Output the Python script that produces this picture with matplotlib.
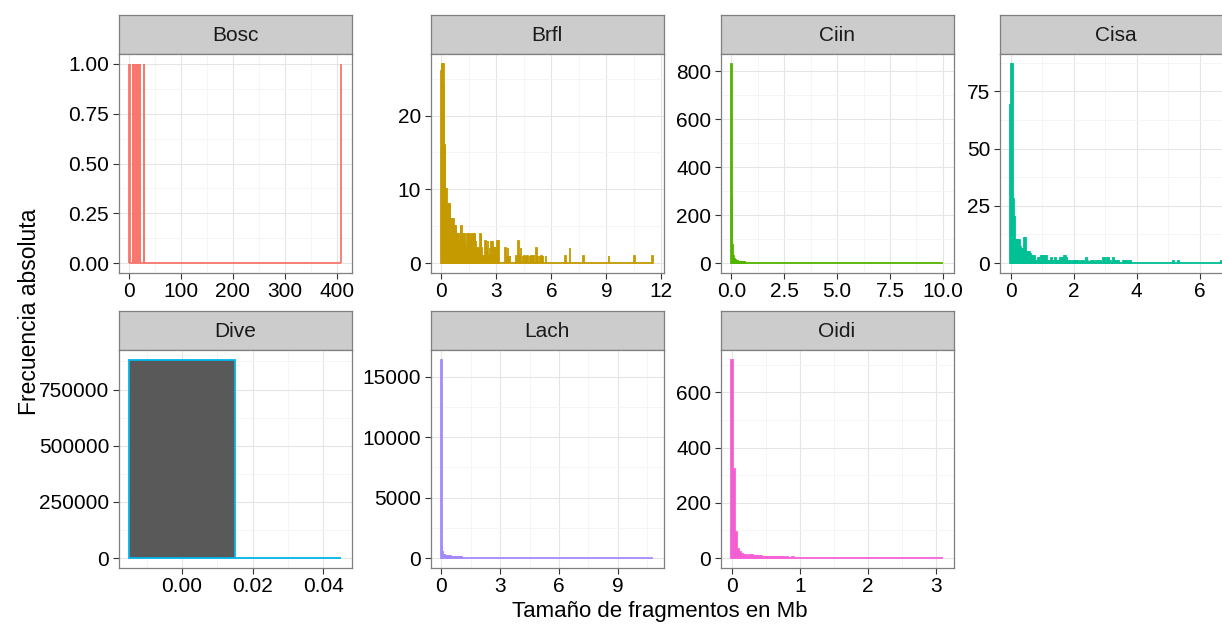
import numpy as np
import matplotlib
matplotlib.use("Agg")
import matplotlib.pyplot as plt

plt.rcParams["font.family"] = ["Liberation Sans", "DejaVu Sans"]

# ==============================
# Data (histogram, binwidth 0.03 Mb)
# ==============================

BINW = 0.03

species = ["Bosc", "Brfl", "Ciin", "Cisa", "Dive", "Lach", "Oidi"]
colors = ["#F8766D", "#C49A00", "#53B400", "#00C094", "#00B6EB", "#A58AFF", "#FB61D7"]

# first / last bin centre, consecutive counts from the first bin, then sparse bins
bosc_first, bosc_last = 0.66, 407.67
bosc_head = [1]
bosc_tail_x = [2.1, 7.5, 9.0, 10.5, 12.0, 13.5, 15.0, 16.5, 18.0, 19.5, 21.0, 22.5, 28.5, 29.7, 407.67]
bosc_tail_n = [1, 1, 1, 1, 1, 1, 1, 1, 1, 1, 1, 1, 1, 1, 1]

brfl_first, brfl_last = 0.0, 11.52
brfl_head = [26, 27, 27, 26, 27, 24, 16, 16, 10, 10, 7, 8, 6, 6, 5, 8, 8, 6, 5, 6,
             6, 5, 6, 5, 5, 4, 5, 5, 4, 4, 3, 4, 3, 3, 2, 3, 5, 5, 3, 4,
             4, 2, 4, 3, 2, 2, 1, 2, 4, 4, 2, 4, 4, 3, 4, 2, 4, 4, 1, 3,
             4, 4, 2, 3, 2, 2, 1, 2, 2, 0, 2, 4, 4, 2, 1, 1, 0, 1, 0, 1,
             3, 3, 0, 2, 1, 3, 0, 1, 2, 0, 3, 1, 3, 0, 3, 1, 0, 2, 2, 1,
             2, 0, 3, 2, 3]
brfl_tail_x = [3.51, 3.57, 3.63, 3.69, 3.75, 4.11, 4.20, 4.26, 4.35, 4.44, 4.53, 4.62,
               4.71, 4.83, 4.92, 5.01, 5.19, 5.28, 5.37, 5.46, 5.55, 5.70, 6.78, 7.02,
               7.74, 9.15, 10.53, 11.52]
brfl_tail_n = [2, 1, 2, 1, 1, 1, 3, 1, 2, 1, 1, 1,
               1, 1, 1, 1, 2, 1, 1, 1, 1, 1, 1, 2,
               1, 1, 1, 1]

ciin_first, ciin_last = 0.0, 9.99
ciin_head = [830, 270, 75, 30, 22, 16, 12, 10, 9, 8, 7, 6, 6, 5, 5, 4, 4, 4, 3, 3,
             3, 3, 2, 2, 2, 2, 2, 2, 1, 2, 1, 1, 2, 1, 1]
ciin_tail_x = [1.11, 1.26, 1.41, 1.62, 1.80, 2.19, 2.52, 2.91, 3.36, 3.84, 4.62, 4.80,
               4.95, 5.31, 5.88, 6.09, 6.51, 6.60, 7.02, 7.50, 7.89, 8.43, 9.99]
ciin_tail_n = [1] * 23

cisa_first, cisa_last = 0.0, 6.69
cisa_head = [69, 87, 87, 28, 20, 10, 10, 10, 8, 10, 6, 7, 5, 6, 6, 11, 11, 5, 5, 5,
             5, 4, 3, 3, 2, 3, 1, 1, 0, 1, 2, 2, 1, 3, 3, 3, 2, 3, 3, 1,
             1, 1, 1, 2, 1, 1, 1, 1, 2, 1, 1, 1, 1, 2, 1, 2, 2, 3, 3, 2,
             1, 0, 1, 1, 0, 0, 1, 1, 1, 1, 1, 0, 1]
cisa_tail_x = [2.25, 2.31, 2.40, 2.43, 2.52, 2.58, 2.64, 2.73, 2.79, 2.85, 2.94, 2.97,
               3.09, 3.12, 3.18, 3.27, 3.30, 3.36, 3.42, 3.57, 3.60, 3.66, 3.72, 3.78,
               3.81, 5.16, 5.34, 6.69]
cisa_tail_n = [1, 1, 2, 1, 1, 1, 1, 1, 1, 1, 2, 2,
               2, 2, 1, 2, 1, 1, 1, 1, 1, 1, 1, 1,
               1, 1, 1, 1]

dive_first, dive_last = 0.0, 0.03
dive_head = [882000, 0]
dive_tail_x = []
dive_tail_n = []

lach_first, lach_last = 0.0, 10.77
lach_head = [16400, 1000, 480, 330, 270, 240, 222, 205, 196, 184, 176, 163, 158, 149, 144, 134,
             131, 122, 119, 111, 108, 100, 98, 91, 89, 83, 81, 75, 73, 68, 66, 61,
             60, 55, 54, 49, 48, 43, 42, 38, 37, 34, 33, 30, 29, 26, 25, 24, 21, 21,
             19, 17, 17, 15, 15, 13, 13, 11, 11, 10, 9, 9, 8, 8, 7, 7, 6, 6,
             5, 5, 5, 4, 4, 4, 3, 3, 3, 3, 2, 2, 2, 2, 2, 2, 1, 1, 1]
lach_tail_x = [2.73, 2.94, 3.21, 3.60, 4.02, 4.47, 5.01, 5.61, 6.24, 7.08, 7.95, 8.82,
               9.63, 10.77]
lach_tail_n = [2, 1, 2, 1, 1, 1, 1, 1, 1, 1, 1, 1, 1, 1]

oidi_first, oidi_last = 0.0, 3.09
oidi_head = [718, 322, 94, 34, 22, 15, 12, 10, 9, 12, 11, 8, 7, 6, 6, 5, 5, 5, 4, 4,
             4, 3, 4, 3, 3, 3, 2, 3, 2, 2, 3, 2, 2, 2, 1, 2, 1, 1, 2, 1]
oidi_tail_x = [1.26, 1.35, 1.44, 1.56, 1.71, 1.83, 1.98, 2.07, 2.22, 2.34, 2.49, 2.61,
               2.76, 2.88, 3.09]
oidi_tail_n = [1, 1, 2, 1, 1, 1, 1, 1, 1, 1, 1, 1, 1, 1, 1]

# ticks
bosc_xt, bosc_xl = [0, 100, 200, 300, 400], ["0", "100", "200", "300", "400"]
bosc_yt, bosc_yl = [0, 0.25, 0.5, 0.75, 1.0], ["0.00", "0.25", "0.50", "0.75", "1.00"]
brfl_xt, brfl_xl = [0, 3, 6, 9, 12], ["0", "3", "6", "9", "12"]
brfl_yt, brfl_yl = [0, 10, 20], ["0", "10", "20"]
ciin_xt, ciin_xl = [0, 2.5, 5, 7.5, 10], ["0.0", "2.5", "5.0", "7.5", "10.0"]
ciin_yt, ciin_yl = [0, 200, 400, 600, 800], ["0", "200", "400", "600", "800"]
cisa_xt, cisa_xl = [0, 2, 4, 6], ["0", "2", "4", "6"]
cisa_yt, cisa_yl = [0, 25, 50, 75], ["0", "25", "50", "75"]
dive_xt, dive_xl = [0, 0.02, 0.04], ["0.00", "0.02", "0.04"]
dive_yt, dive_yl = [0, 250000, 500000, 750000], ["0", "250000", "500000", "750000"]
lach_xt, lach_xl = [0, 3, 6, 9], ["0", "3", "6", "9"]
lach_yt, lach_yl = [0, 5000, 10000, 15000], ["0", "5000", "10000", "15000"]
oidi_xt, oidi_xl = [0, 1, 2, 3], ["0", "1", "2", "3"]
oidi_yt, oidi_yl = [0, 200, 400, 600], ["0", "200", "400", "600"]

panels = [
    (bosc_first, bosc_last, bosc_head, bosc_tail_x, bosc_tail_n, bosc_xt, bosc_xl, bosc_yt, bosc_yl),
    (brfl_first, brfl_last, brfl_head, brfl_tail_x, brfl_tail_n, brfl_xt, brfl_xl, brfl_yt, brfl_yl),
    (ciin_first, ciin_last, ciin_head, ciin_tail_x, ciin_tail_n, ciin_xt, ciin_xl, ciin_yt, ciin_yl),
    (cisa_first, cisa_last, cisa_head, cisa_tail_x, cisa_tail_n, cisa_xt, cisa_xl, cisa_yt, cisa_yl),
    (dive_first, dive_last, dive_head, dive_tail_x, dive_tail_n, dive_xt, dive_xl, dive_yt, dive_yl),
    (lach_first, lach_last, lach_head, lach_tail_x, lach_tail_n, lach_xt, lach_xl, lach_yt, lach_yl),
    (oidi_first, oidi_last, oidi_head, oidi_tail_x, oidi_tail_n, oidi_xt, oidi_xl, oidi_yt, oidi_yl),
]

# ==============================
# Layout (pixels)
# ==============================

W, H = 1222, 624
COL_LEFT = [118.5, 430.5, 720.5, 999.5]
PANEL_W = 233
STRIP_TOP = [15, 311]
STRIP_H = 39
PANEL_H = [219, 218]

FILL = "#595959"
BORDER = "#7F7F7F"
FS = 15


def build_bins(first, last, head, tail_x, tail_n):
    n = int(round((last - first) / BINW)) + 1
    centers = first + BINW * np.arange(n)
    counts = np.zeros(n)
    counts[:len(head)] = head
    for x, c in zip(tail_x, tail_n):
        counts[int(round((x - first) / BINW))] = c
    return centers, counts


def minor_breaks(major, lo, hi):
    step = major[1] - major[0]
    cand = [major[0] - step / 2] + [m + step / 2 for m in major]
    return [c for c in cand if lo <= c <= hi]


def px_axes(fig, x, y, w, h):
    return fig.add_axes([x / W, 1 - (y + h) / H, w / W, h / H])


fig = plt.figure(figsize=(W / 100, H / 100), dpi=100)

for i, (name, col, p) in enumerate(zip(species, colors, panels)):
    first, last, head, tx, tn, xt, xl, yt, yl = p
    row, c = divmod(i, 4)
    x0 = COL_LEFT[c]
    y0 = STRIP_TOP[row]

    # strip
    sax = px_axes(fig, x0, y0, PANEL_W, STRIP_H)
    sax.set_facecolor("#CCCCCC")
    sax.set_xticks([])
    sax.set_yticks([])
    for s in sax.spines.values():
        s.set_color(BORDER)
        s.set_linewidth(0.9)
    sax.text(0.5, 0.48, name, ha="center", va="center", fontsize=FS, color="#1A1A1A",
             transform=sax.transAxes)

    # panel
    ax = px_axes(fig, x0, y0 + STRIP_H, PANEL_W, PANEL_H[row])
    centers, counts = build_bins(first, last, head, tx, tn)
    ax.bar(centers, counts, width=BINW, facecolor=FILL, edgecolor=col,
           linewidth=1.3, zorder=2)

    lo_e, hi_e = first - BINW / 2, last + BINW / 2
    r = hi_e - lo_e
    xlim = (lo_e - 0.05 * r, hi_e + 0.05 * r)
    ymax = counts.max()
    ylim = (-0.05 * ymax, 1.05 * ymax)
    ax.set_xlim(xlim)
    ax.set_ylim(ylim)

    ax.set_xticks(xt, xl)
    ax.set_yticks(yt, yl)
    ax.set_xticks(minor_breaks(xt, *xlim), minor=True)
    ax.set_yticks(minor_breaks(yt, *ylim), minor=True)
    ax.grid(which="major", color="#E5E5E5", linewidth=0.8, zorder=0)
    ax.grid(which="minor", color="#F4F4F4", linewidth=0.6, zorder=0)
    ax.set_axisbelow(True)
    ax.tick_params(which="major", length=4.5, width=0.8, color="#333333",
                   labelsize=FS, labelcolor="black", pad=2.2)
    ax.tick_params(which="minor", length=0)
    for s in ax.spines.values():
        s.set_color(BORDER)
        s.set_linewidth(0.9)

fig.text(30 / W, 1 - 312 / H, "Frecuencia absoluta", rotation=90, ha="center",
         va="center", fontsize=16.5)
fig.text(660 / W, 1 - 611 / H, "Tamaño de fragmentos en Mb", ha="center",
         va="center", fontsize=16)

fig.savefig("out.png", dpi=100)
